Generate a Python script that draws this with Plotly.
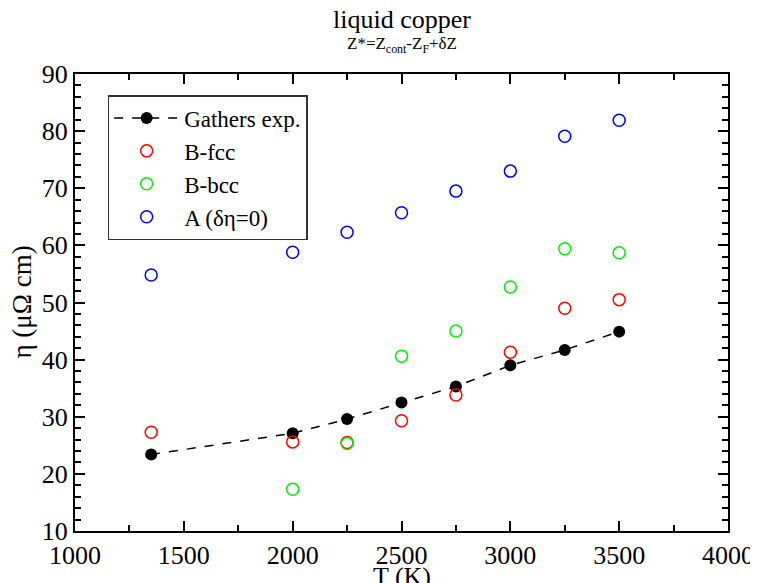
import plotly.graph_objects as go

T_gathers = [1350, 2000, 2250, 2500, 2750, 3000, 3250, 3500]
eta_gathers = [23.4, 27.1, 29.6, 32.5, 35.3, 39.0, 41.7, 44.9]

T_fcc = [1350, 2000, 2250, 2500, 2750, 3000, 3250, 3500]
eta_fcc = [27.3, 25.6, 25.5, 29.3, 33.8, 41.3, 49.0, 50.5]

T_bcc = [2000, 2250, 2500, 2750, 3000, 3250, 3500]
eta_bcc = [17.3, 25.3, 40.6, 45.0, 52.7, 59.4, 58.7]

T_A = [1350, 2000, 2250, 2500, 2750, 3000, 3250, 3500]
eta_A = [54.8, 58.8, 62.3, 65.7, 69.5, 73.0, 79.1, 81.9]

FONT = "Liberation Serif"

fig = go.Figure()
fig.add_trace(go.Scatter(x=T_gathers, y=eta_gathers, mode="lines+markers", name="Gathers exp.",
                         line=dict(color="black", width=1.5, dash="dash"),
                         marker=dict(symbol="circle", size=12, color="black")))
fig.add_trace(go.Scatter(x=T_fcc, y=eta_fcc, mode="markers", name="B-fcc",
                         marker=dict(symbol="circle-open", size=12, color="#ff0000", line=dict(width=1.5))))
fig.add_trace(go.Scatter(x=T_bcc, y=eta_bcc, mode="markers", name="B-bcc",
                         marker=dict(symbol="circle-open", size=12, color="#00ee00", line=dict(width=1.5))))
fig.add_trace(go.Scatter(x=T_A, y=eta_A, mode="markers", name="A (δη=0)",
                         marker=dict(symbol="circle-open", size=12, color="#0000ff", line=dict(width=1.5))))

axis_common = dict(showgrid=False, zeroline=False, showline=True, linecolor="black", linewidth=2,
                   mirror="allticks", ticks="inside", ticklen=10, tickwidth=1.5, tickcolor="black",
                   tickfont=dict(family=FONT, size=26, color="black"))

fig.update_xaxes(range=[1000, 4000], tick0=1000, dtick=500,
                 minor=dict(dtick=250, ticks="inside", ticklen=6, tickwidth=1.5, tickcolor="black"),
                 **axis_common)
fig.update_yaxes(range=[10, 90], tick0=10, dtick=10,
                 minor=dict(dtick=2, ticks="inside", ticklen=6, tickwidth=1.5, tickcolor="black"),
                 **axis_common)

fig.update_layout(
    width=758, height=583,
    margin=dict(l=67, r=38, t=66, b=60),
    plot_bgcolor="white", paper_bgcolor="white",
    font=dict(family=FONT, color="black"),
    showlegend=True,
    legend=dict(x=0.05, y=0.954, xanchor="left", yanchor="top",
                bgcolor="white", bordercolor="#333333", borderwidth=1.5,
                font=dict(family=FONT, size=23, color="black"),
                itemwidth=65, tracegroupgap=0),
    annotations=[
        dict(text="liquid copper", xref="paper", yref="paper", x=0.5, y=1, yshift=55,
             xanchor="center", yanchor="middle", showarrow=False, font=dict(family=FONT, size=26)),
        dict(text="Z*=Z<sub>cont</sub>-Z<sub>F</sub>+δZ", xref="paper", yref="paper", x=0.5, y=1, yshift=29,
             xanchor="center", yanchor="middle", showarrow=False, font=dict(family=FONT, size=17)),
        dict(text="T (K)", xref="paper", yref="paper", x=0.5, y=0, yshift=-45,
             xanchor="center", yanchor="middle", showarrow=False, font=dict(family=FONT, size=26)),
        dict(text="η (μΩ cm)", xref="paper", yref="paper", x=0, y=0.5, xshift=-54,
             xanchor="center", yanchor="middle", textangle=-90, showarrow=False, font=dict(family=FONT, size=27)),
    ],
)

fig.write_html("out.html")
